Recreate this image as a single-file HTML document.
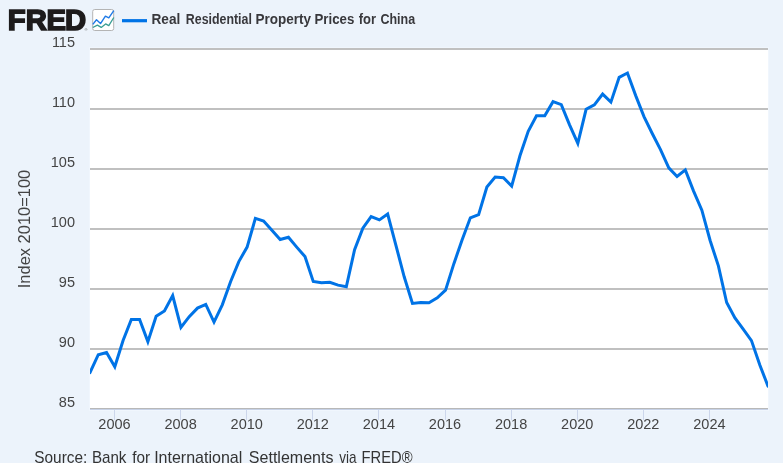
<!DOCTYPE html>
<html><head><meta charset="utf-8"><title>FRED</title>
<style>
html,body{margin:0;padding:0;background:#ecf3fb;}
body{width:783px;height:463px;overflow:hidden;position:relative;font-family:"Liberation Sans",sans-serif;}
svg{position:absolute;left:0;top:0;display:block}
svg text{font-family:"Liberation Sans",sans-serif;}
.ax text{font-size:14.5px;fill:#444;}
</style></head><body>
<svg width="783" height="463" viewBox="0 0 783 463">
<defs><clipPath id="pc"><rect x="90" y="40" width="678" height="380"/></clipPath></defs>
<rect x="0" y="0" width="783" height="463" fill="#ecf3fb"/>
<rect x="89" y="47" width="680" height="364" fill="#f0f6fd"/>
<rect x="90" y="48" width="678" height="361" fill="#ffffff"/>
<rect x="90" y="48" width="678" height="2" fill="#c0c0c0"/><rect x="90" y="108" width="678" height="2" fill="#c0c0c0"/><rect x="90" y="168" width="678" height="2" fill="#c0c0c0"/><rect x="90" y="228" width="678" height="2" fill="#c0c0c0"/><rect x="90" y="288" width="678" height="2" fill="#c0c0c0"/><rect x="90" y="348" width="678" height="2" fill="#c0c0c0"/><rect x="90" y="408" width="678" height="1" fill="#b8b8b8"/><rect x="90" y="409" width="678" height="1" fill="#c6d1e6"/>
<g><rect x="114" y="410" width="1" height="10" fill="#ccd6eb"/><rect x="180" y="410" width="1" height="10" fill="#ccd6eb"/><rect x="246" y="410" width="1" height="10" fill="#ccd6eb"/><rect x="312" y="410" width="1" height="10" fill="#ccd6eb"/><rect x="378" y="410" width="1" height="10" fill="#ccd6eb"/><rect x="445" y="410" width="1" height="10" fill="#ccd6eb"/><rect x="511" y="410" width="1" height="10" fill="#ccd6eb"/><rect x="577" y="410" width="1" height="10" fill="#ccd6eb"/><rect x="643" y="410" width="1" height="10" fill="#ccd6eb"/><rect x="709" y="410" width="1" height="10" fill="#ccd6eb"/></g>
<g class="ax"><text x="75" y="47" text-anchor="end">115</text><text x="75" y="107" text-anchor="end">110</text><text x="75" y="167" text-anchor="end">105</text><text x="75" y="227" text-anchor="end">100</text><text x="75" y="287" text-anchor="end">95</text><text x="75" y="347" text-anchor="end">90</text><text x="75" y="407" text-anchor="end">85</text></g>
<g class="ax"><text x="114.5" y="429" text-anchor="middle">2006</text><text x="180.6" y="429" text-anchor="middle">2008</text><text x="246.7" y="429" text-anchor="middle">2010</text><text x="312.8" y="429" text-anchor="middle">2012</text><text x="378.9" y="429" text-anchor="middle">2014</text><text x="445.0" y="429" text-anchor="middle">2016</text><text x="511.1" y="429" text-anchor="middle">2018</text><text x="577.2" y="429" text-anchor="middle">2020</text><text x="643.3" y="429" text-anchor="middle">2022</text><text x="709.4" y="429" text-anchor="middle">2024</text></g>
<text x="30.2" y="229" transform="rotate(-90 30.2 229)" text-anchor="middle" font-size="16.5" fill="#444" textLength="118.5" lengthAdjust="spacingAndGlyphs">Index 2010=100</text>
<polyline fill="none" stroke="#0073e6" stroke-width="3" stroke-linejoin="miter" stroke-miterlimit="10" stroke-linecap="round" clip-path="url(#pc)" points="90.00,372.6 98.27,354.7 106.54,352.5 114.80,366.7 123.07,340.5 131.34,319.4 139.61,319.4 147.88,341.6 156.15,316.3 164.41,310.9 172.68,295.6 180.95,327.5 189.22,316.7 197.49,308.1 205.76,304.4 214.02,322.1 222.29,304.8 230.56,281.7 238.83,261.6 247.10,247.1 255.37,218.4 263.63,221.0 271.90,230.2 280.17,239.5 288.44,237.2 296.71,247.1 304.98,256.6 313.24,281.4 321.51,282.7 329.78,282.3 338.05,285.1 346.32,286.8 354.59,249.7 362.85,228.1 371.12,216.6 379.39,219.9 387.66,214.0 395.93,245.4 404.20,276.8 412.46,303.4 420.73,302.5 429.00,302.8 437.27,297.9 445.54,290.1 453.80,263.9 462.07,240.0 470.34,217.8 478.61,214.6 486.88,187.0 495.15,177.0 503.41,177.7 511.68,186.1 519.95,155.8 528.22,131.3 536.49,115.7 544.76,115.7 553.02,101.7 561.29,104.7 569.56,124.8 577.83,143.3 586.10,109.3 594.37,104.9 602.63,94.1 610.90,102.1 619.17,77.3 627.44,73.0 635.71,95.6 643.98,116.6 652.24,133.5 660.51,149.6 668.78,167.8 677.05,176.5 685.32,169.9 693.59,191.1 701.85,210.2 710.12,240.5 718.39,265.9 726.66,302.5 734.93,318.0 743.20,329.2 751.46,340.6 759.73,364.8 768.00,386.1"/>
<!-- header -->
<text x="7.8 25.8 46.4 65.1" y="30.1" font-size="29.3" font-weight="bold" fill="#1d1b1c" stroke="#1d1b1c" stroke-width="1.6">FRED</text>
<text x="84.6" y="31" font-size="4" fill="#555">®</text>
<rect x="92.7" y="9.5" width="21" height="21" rx="2" ry="2" fill="#fff" stroke="#b4b4b4" stroke-width="1"/>
<polyline fill="none" stroke="#3a9d94" stroke-width="1.3" stroke-linejoin="round" points="92.8,27.5 97.4,25.1 101.2,27.4 105.6,23.9 108.8,25.6 113.8,17.5"/>
<polyline fill="none" stroke="#1f7ae6" stroke-width="1.4" stroke-linejoin="round" points="92.8,24.4 96.5,19.8 100.5,23.6 105.4,16.1 108.8,17.8 113.8,10.6"/>
<rect x="122" y="19.1" width="25" height="3.2" fill="#0073e6"/>
<text y="24" font-size="14.2" font-weight="bold" fill="#38383c"><tspan x="151.48" textLength="28.80" lengthAdjust="spacingAndGlyphs">Real</tspan> <tspan x="185.82" textLength="66.08" lengthAdjust="spacingAndGlyphs">Residential</tspan> <tspan x="255.40" textLength="55.58" lengthAdjust="spacingAndGlyphs">Property</tspan> <tspan x="314.48" textLength="39.88" lengthAdjust="spacingAndGlyphs">Prices</tspan> <tspan x="358.78" textLength="17.28" lengthAdjust="spacingAndGlyphs">for</tspan> <tspan x="380.40" textLength="34.70" lengthAdjust="spacingAndGlyphs">China</tspan> </text>
<text y="463" font-size="17" fill="#333"><tspan x="34.32" textLength="53.00" lengthAdjust="spacingAndGlyphs">Source:</tspan> <tspan x="91.90" textLength="34.54" lengthAdjust="spacingAndGlyphs">Bank</tspan> <tspan x="132.16" textLength="17.86" lengthAdjust="spacingAndGlyphs">for</tspan> <tspan x="154.14" textLength="88.22" lengthAdjust="spacingAndGlyphs">International</tspan> <tspan x="248.82" textLength="84.66" lengthAdjust="spacingAndGlyphs">Settlements</tspan> <tspan x="339.20" textLength="17.28" lengthAdjust="spacingAndGlyphs">via</tspan> <tspan x="361.52" textLength="51.00" lengthAdjust="spacingAndGlyphs">FRED®</tspan> </text>
</svg>
</body></html>
